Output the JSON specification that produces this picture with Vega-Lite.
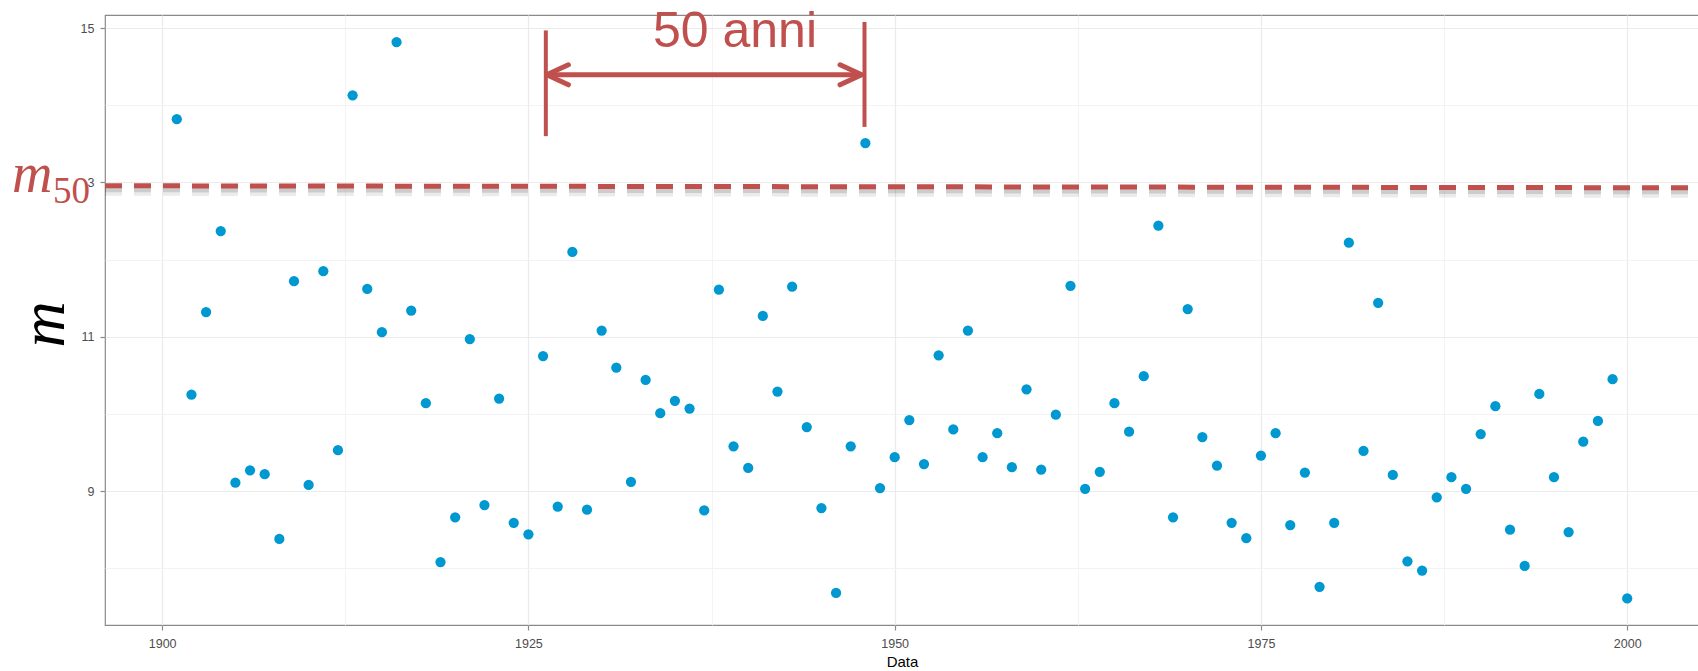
{
  "$schema": "https://vega.github.io/schema/vega-lite/v6.json",
  "width": 1594,
  "height": 610,
  "autosize": {"type": "none"},
  "padding": {"left": 105, "top": 15, "right": 0, "bottom": 46},
  "background": "white",
  "config": {
    "view": {"stroke": "#8a8a8a", "strokeWidth": 1.2},
    "font": "Liberation Sans"
  },
  "datasets": {
    "series": [
      {"year": 1901, "m": 13.82}, {"year": 1902, "m": 10.25}, {"year": 1903, "m": 11.32}, {"year": 1904, "m": 12.37},
      {"year": 1905, "m": 9.11}, {"year": 1906, "m": 9.27}, {"year": 1907, "m": 9.22}, {"year": 1908, "m": 8.38},
      {"year": 1909, "m": 11.72}, {"year": 1910, "m": 9.08}, {"year": 1911, "m": 11.85}, {"year": 1912, "m": 9.53},
      {"year": 1913, "m": 14.13}, {"year": 1914, "m": 11.62}, {"year": 1915, "m": 11.06}, {"year": 1916, "m": 14.82},
      {"year": 1917, "m": 11.34}, {"year": 1918, "m": 10.14}, {"year": 1919, "m": 8.08}, {"year": 1920, "m": 8.66},
      {"year": 1921, "m": 10.97}, {"year": 1922, "m": 8.82}, {"year": 1923, "m": 10.2}, {"year": 1924, "m": 8.59},
      {"year": 1925, "m": 8.44}, {"year": 1926, "m": 10.75}, {"year": 1927, "m": 8.8}, {"year": 1928, "m": 12.1},
      {"year": 1929, "m": 8.76}, {"year": 1930, "m": 11.08}, {"year": 1931, "m": 10.6}, {"year": 1932, "m": 9.12},
      {"year": 1933, "m": 10.44}, {"year": 1934, "m": 10.01}, {"year": 1935, "m": 10.17}, {"year": 1936, "m": 10.07},
      {"year": 1937, "m": 8.75}, {"year": 1938, "m": 11.61}, {"year": 1939, "m": 9.58}, {"year": 1940, "m": 9.3},
      {"year": 1941, "m": 11.27}, {"year": 1942, "m": 10.29}, {"year": 1943, "m": 11.65}, {"year": 1944, "m": 9.83},
      {"year": 1945, "m": 8.78}, {"year": 1946, "m": 7.68}, {"year": 1947, "m": 9.58}, {"year": 1948, "m": 13.51},
      {"year": 1949, "m": 9.04}, {"year": 1950, "m": 9.44}, {"year": 1951, "m": 9.92}, {"year": 1952, "m": 9.35},
      {"year": 1953, "m": 10.76}, {"year": 1954, "m": 9.8}, {"year": 1955, "m": 11.08}, {"year": 1956, "m": 9.44},
      {"year": 1957, "m": 9.75}, {"year": 1958, "m": 9.31}, {"year": 1959, "m": 10.32}, {"year": 1960, "m": 9.28},
      {"year": 1961, "m": 9.99}, {"year": 1962, "m": 11.66}, {"year": 1963, "m": 9.03}, {"year": 1964, "m": 9.25},
      {"year": 1965, "m": 10.14}, {"year": 1966, "m": 9.77}, {"year": 1967, "m": 10.49}, {"year": 1968, "m": 12.44},
      {"year": 1969, "m": 8.66}, {"year": 1970, "m": 11.36}, {"year": 1971, "m": 9.7}, {"year": 1972, "m": 9.33},
      {"year": 1973, "m": 8.59}, {"year": 1974, "m": 8.39}, {"year": 1975, "m": 9.46}, {"year": 1976, "m": 9.75},
      {"year": 1977, "m": 8.56}, {"year": 1978, "m": 9.24}, {"year": 1979, "m": 7.76}, {"year": 1980, "m": 8.59},
      {"year": 1981, "m": 12.22}, {"year": 1982, "m": 9.52}, {"year": 1983, "m": 11.44}, {"year": 1984, "m": 9.21},
      {"year": 1985, "m": 8.09}, {"year": 1986, "m": 7.97}, {"year": 1987, "m": 8.92}, {"year": 1988, "m": 9.18},
      {"year": 1989, "m": 9.03}, {"year": 1990, "m": 9.74}, {"year": 1991, "m": 10.1}, {"year": 1992, "m": 8.5},
      {"year": 1993, "m": 8.03}, {"year": 1994, "m": 10.26}, {"year": 1995, "m": 9.18}, {"year": 1996, "m": 8.47},
      {"year": 1997, "m": 9.64}, {"year": 1998, "m": 9.91}, {"year": 1999, "m": 10.45}, {"year": 2000, "m": 7.61}
    ],
    "m50line": [{"year": 1896.1, "year2": 2004.9, "m": 12.957, "m2": 12.931}],
    "bars": [
      {"year": 1926.19, "m": 14.97, "m2": 13.6},
      {"year": 1947.94, "m": 15.08, "m2": 13.72}
    ],
    "span": [{"year": 1926.3, "year2": 1947.7, "m": 14.395}],
    "headRight": [{"year": 1947.75, "m": 14.395}],
    "headLeft": [{"year": 1926.25, "m": 14.395}],
    "spanLabel": [{"year": 1939.1, "m": 14.76, "label": "50 anni"}],
    "m50box": [{"year": 1890.0, "year2": 1894.9, "m": 13.4, "m2": 12.6}],
    "m50main": [{"year": 1889.75, "m": 12.88, "label": "m"}],
    "m50sub": [{"year": 1892.55, "m": 12.737, "label": "50"}]
  },
  "layer": [
    {
      "data": {"name": "series"},
      "mark": {"type": "circle", "size": 105, "opacity": 1, "color": "#0098D0"},
      "encoding": {
        "x": {
          "field": "year", "type": "quantitative",
          "scale": {"domain": [1896.1, 2004.9], "nice": false, "zero": false},
          "axis": {
            "title": "Data",
            "values": [1900, 1912.5, 1925, 1937.5, 1950, 1962.5, 1975, 1987.5, 2000],
            "labelExpr": "datum.value % 25 === 0 ? format(datum.value, 'd') : ''",
            "domain": false,
            "grid": true,
            "gridColor": {"condition": {"test": "datum.value % 25 === 0", "value": "#EBEBEB"}, "value": "#F2F2F2"},
            "gridWidth": {"condition": {"test": "datum.value % 25 === 0", "value": 1.2}, "value": 0.9},
            "tickOpacity": {"condition": {"test": "datum.value % 25 === 0", "value": 1}, "value": 0},
            "tickColor": "#8a8a8a",
            "tickSize": 5,
            "tickWidth": 1.2,
            "labelFont": "Liberation Sans",
            "labelFontSize": 12.5,
            "labelColor": "#4D4D4D",
            "labelPadding": 7,
            "titleFont": "Liberation Sans",
            "titleFontSize": 15,
            "titleFontWeight": "normal",
            "titleColor": "#000000",
            "titlePadding": 5
          }
        },
        "y": {
          "field": "m", "type": "quantitative",
          "scale": {"domain": [7.265, 15.17], "nice": false, "zero": false},
          "axis": {
            "title": "m",
            "values": [8, 9, 10, 11, 12, 13, 14, 15],
            "labelExpr": "datum.value % 2 === 1 ? format(datum.value, 'd') : ''",
            "domain": false,
            "grid": true,
            "gridColor": {"condition": {"test": "datum.value % 2 === 1", "value": "#EBEBEB"}, "value": "#F2F2F2"},
            "gridWidth": {"condition": {"test": "datum.value % 2 === 1", "value": 1.2}, "value": 0.9},
            "tickOpacity": {"condition": {"test": "datum.value % 2 === 1", "value": 1}, "value": 0},
            "tickColor": "#8a8a8a",
            "tickSize": 5,
            "tickWidth": 1.2,
            "labelFont": "Liberation Sans",
            "labelFontSize": 12.5,
            "labelColor": "#4D4D4D",
            "labelPadding": 6,
            "titleFont": "Liberation Serif",
            "titleFontStyle": "italic",
            "titleFontWeight": "normal",
            "titleFontSize": 64,
            "titleColor": "#000000",
            "titleAngle": -90,
            "titleAlign": "center",
            "titleBaseline": "alphabetic",
            "titleX": -42,
            "titleY": 309
          }
        }
      }
    },
    {
      "data": {"name": "m50line"},
      "mark": {"type": "rule", "color": "#000000", "opacity": 0.08, "strokeWidth": 10, "strokeDash": [17, 12], "yOffset": 5, "y2Offset": 5},
      "encoding": {
        "x": {"field": "year", "type": "quantitative", "scale": {"domain": [1896.1, 2004.9], "nice": false, "zero": false}},
        "x2": {"field": "year2"},
        "y": {"field": "m", "type": "quantitative", "scale": {"domain": [7.265, 15.17], "nice": false, "zero": false}},
        "y2": {"field": "m2"}
      }
    },
    {
      "data": {"name": "m50line"},
      "mark": {"type": "rule", "color": "#000000", "opacity": 0.13, "strokeWidth": 5, "strokeDash": [17, 12], "yOffset": 4, "y2Offset": 4},
      "encoding": {
        "x": {"field": "year", "type": "quantitative", "scale": {"domain": [1896.1, 2004.9], "nice": false, "zero": false}},
        "x2": {"field": "year2"},
        "y": {"field": "m", "type": "quantitative", "scale": {"domain": [7.265, 15.17], "nice": false, "zero": false}},
        "y2": {"field": "m2"}
      }
    },
    {
      "data": {"name": "m50line"},
      "mark": {"type": "rule", "color": "#C0504D", "strokeWidth": 5, "strokeDash": [17, 12]},
      "encoding": {
        "x": {"field": "year", "type": "quantitative", "scale": {"domain": [1896.1, 2004.9], "nice": false, "zero": false}},
        "x2": {"field": "year2"},
        "y": {"field": "m", "type": "quantitative", "scale": {"domain": [7.265, 15.17], "nice": false, "zero": false}},
        "y2": {"field": "m2"}
      }
    },
    {
      "data": {"name": "bars"},
      "mark": {"type": "rule", "color": "#C0504D", "strokeWidth": 4},
      "encoding": {
        "x": {"field": "year", "type": "quantitative", "scale": {"domain": [1896.1, 2004.9], "nice": false, "zero": false}},
        "y": {"field": "m", "type": "quantitative", "scale": {"domain": [7.265, 15.17], "nice": false, "zero": false}},
        "y2": {"field": "m2"}
      }
    },
    {
      "data": {"name": "span"},
      "mark": {"type": "rule", "color": "#C0504D", "strokeWidth": 5},
      "encoding": {
        "x": {"field": "year", "type": "quantitative", "scale": {"domain": [1896.1, 2004.9], "nice": false, "zero": false}},
        "x2": {"field": "year2"},
        "y": {"field": "m", "type": "quantitative", "scale": {"domain": [7.265, 15.17], "nice": false, "zero": false}}
      }
    },
    {
      "data": {"name": "headRight"},
      "mark": {"type": "point", "shape": "M -1 -0.46 L 0 0 L -1 0.46", "filled": false, "size": 1880, "stroke": "#C0504D", "strokeWidth": 5, "strokeCap": "round", "strokeJoin": "round", "opacity": 1},
      "encoding": {
        "x": {"field": "year", "type": "quantitative", "scale": {"domain": [1896.1, 2004.9], "nice": false, "zero": false}},
        "y": {"field": "m", "type": "quantitative", "scale": {"domain": [7.265, 15.17], "nice": false, "zero": false}}
      }
    },
    {
      "data": {"name": "headLeft"},
      "mark": {"type": "point", "shape": "M 1 -0.46 L 0 0 L 1 0.46", "filled": false, "size": 1880, "stroke": "#C0504D", "strokeWidth": 5, "strokeCap": "round", "strokeJoin": "round", "opacity": 1},
      "encoding": {
        "x": {"field": "year", "type": "quantitative", "scale": {"domain": [1896.1, 2004.9], "nice": false, "zero": false}},
        "y": {"field": "m", "type": "quantitative", "scale": {"domain": [7.265, 15.17], "nice": false, "zero": false}}
      }
    },
    {
      "data": {"name": "spanLabel"},
      "mark": {"type": "text", "font": "Liberation Sans", "fontSize": 50, "color": "#C0504D", "align": "center", "baseline": "alphabetic"},
      "encoding": {
        "x": {"field": "year", "type": "quantitative", "scale": {"domain": [1896.1, 2004.9], "nice": false, "zero": false}},
        "y": {"field": "m", "type": "quantitative", "scale": {"domain": [7.265, 15.17], "nice": false, "zero": false}},
        "text": {"field": "label"}
      }
    },
    {
      "data": {"name": "m50box"},
      "mark": {"type": "rect", "color": "white"},
      "encoding": {
        "x": {"field": "year", "type": "quantitative", "scale": {"domain": [1896.1, 2004.9], "nice": false, "zero": false}},
        "x2": {"field": "year2"},
        "y": {"field": "m", "type": "quantitative", "scale": {"domain": [7.265, 15.17], "nice": false, "zero": false}},
        "y2": {"field": "m2"}
      }
    },
    {
      "data": {"name": "m50main"},
      "mark": {"type": "text", "font": "Liberation Serif", "fontStyle": "italic", "fontSize": 56, "color": "#C0504D", "align": "left", "baseline": "alphabetic"},
      "encoding": {
        "x": {"field": "year", "type": "quantitative", "scale": {"domain": [1896.1, 2004.9], "nice": false, "zero": false}},
        "y": {"field": "m", "type": "quantitative", "scale": {"domain": [7.265, 15.17], "nice": false, "zero": false}},
        "text": {"field": "label"}
      }
    },
    {
      "data": {"name": "m50sub"},
      "mark": {"type": "text", "font": "Liberation Serif", "fontSize": 37, "color": "#C0504D", "align": "left", "baseline": "alphabetic"},
      "encoding": {
        "x": {"field": "year", "type": "quantitative", "scale": {"domain": [1896.1, 2004.9], "nice": false, "zero": false}},
        "y": {"field": "m", "type": "quantitative", "scale": {"domain": [7.265, 15.17], "nice": false, "zero": false}},
        "text": {"field": "label"}
      }
    }
  ]
}
